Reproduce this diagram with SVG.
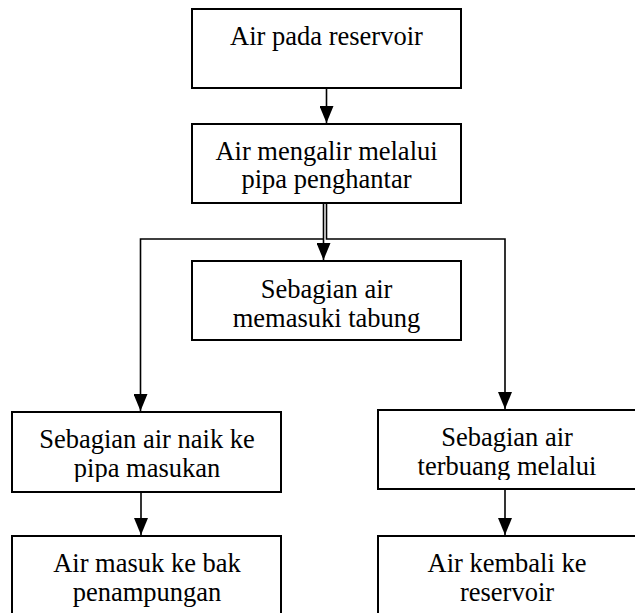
<svg xmlns="http://www.w3.org/2000/svg" width="635" height="613" viewBox="0 0 635 613">
<style>
.box{fill:#fff;stroke:#000;stroke-width:2}
.lbl{font-size:26.5px;fill:#000;text-anchor:middle}
.conn{fill:none;stroke:#000;stroke-width:1.6}
</style>
<defs>
<marker id="ah" markerUnits="userSpaceOnUse" viewBox="0 0 17 14" markerWidth="17" markerHeight="14" refX="17" refY="7" orient="auto">
<polygon points="0,0 17,7 0,14" fill="#000"/>
</marker>
<clipPath id="c1"><rect x="192" y="9" width="269" height="74"/></clipPath>
<clipPath id="c2"><rect x="192" y="124" width="269" height="70"/></clipPath>
<clipPath id="c3"><rect x="192" y="261" width="269" height="72"/></clipPath>
<clipPath id="c4"><rect x="12" y="412" width="269" height="70"/></clipPath>
<clipPath id="c5"><rect x="378" y="410" width="262" height="70"/></clipPath>
<clipPath id="c6"><rect x="12" y="536" width="269" height="71"/></clipPath>
<clipPath id="c7"><rect x="378" y="536" width="262" height="71"/></clipPath>
</defs>
<g id="connectors">
<path class="conn" d="M326.5,88 V123" marker-end="url(#ah)"/>
<path class="conn" d="M323.5,203 V260" marker-end="url(#ah)"/>
<path class="conn" d="M323.5,239 H140.5 V411" marker-end="url(#ah)"/>
<path class="conn" d="M326.5,203 V239 H505 V409" marker-end="url(#ah)"/>
<path class="conn" d="M141,492 V535" marker-end="url(#ah)"/>
<path class="conn" d="M505,489 V535" marker-end="url(#ah)"/>
</g>
<g font-family="'Liberation Serif', 'Times New Roman', 'DejaVu Serif', serif">
<g id="node1">
<rect class="box" x="192" y="9" width="269" height="79"/>
<text class="lbl" x="326.5" y="45" clip-path="url(#c1)">Air pada reservoir</text>
</g>
<g id="node2">
<rect class="box" x="192" y="124" width="269" height="79"/>
<g clip-path="url(#c2)">
<text class="lbl" x="326.5" y="160">Air mengalir melalui</text>
<text class="lbl" x="326.5" y="188">pipa penghantar</text>
</g>
</g>
<g id="node3">
<rect class="box" x="192" y="261" width="269" height="79"/>
<g clip-path="url(#c3)">
<text class="lbl" x="326.5" y="298">Sebagian air</text>
<text class="lbl" x="326.5" y="327">memasuki tabung</text>
</g>
</g>
<g id="node4">
<rect class="box" x="12" y="412" width="269" height="80"/>
<g clip-path="url(#c4)">
<text class="lbl" x="147" y="448">Sebagian air naik ke</text>
<text class="lbl" x="147" y="477">pipa masukan</text>
</g>
</g>
<g id="node5">
<rect class="box" x="378" y="410" width="262" height="79"/>
<g clip-path="url(#c5)">
<text class="lbl" x="507" y="446">Sebagian air</text>
<text class="lbl" x="507" y="475">terbuang melalui</text>
</g>
</g>
<g id="node6">
<rect class="box" x="12" y="536" width="269" height="90"/>
<g clip-path="url(#c6)">
<text class="lbl" x="147" y="572">Air masuk ke bak</text>
<text class="lbl" x="147" y="601">penampungan</text>
</g>
</g>
<g id="node7">
<rect class="box" x="378" y="536" width="262" height="90"/>
<g clip-path="url(#c7)">
<text class="lbl" x="507" y="572">Air kembali ke</text>
<text class="lbl" x="507" y="601">reservoir</text>
</g>
</g>
</g>
</svg>
